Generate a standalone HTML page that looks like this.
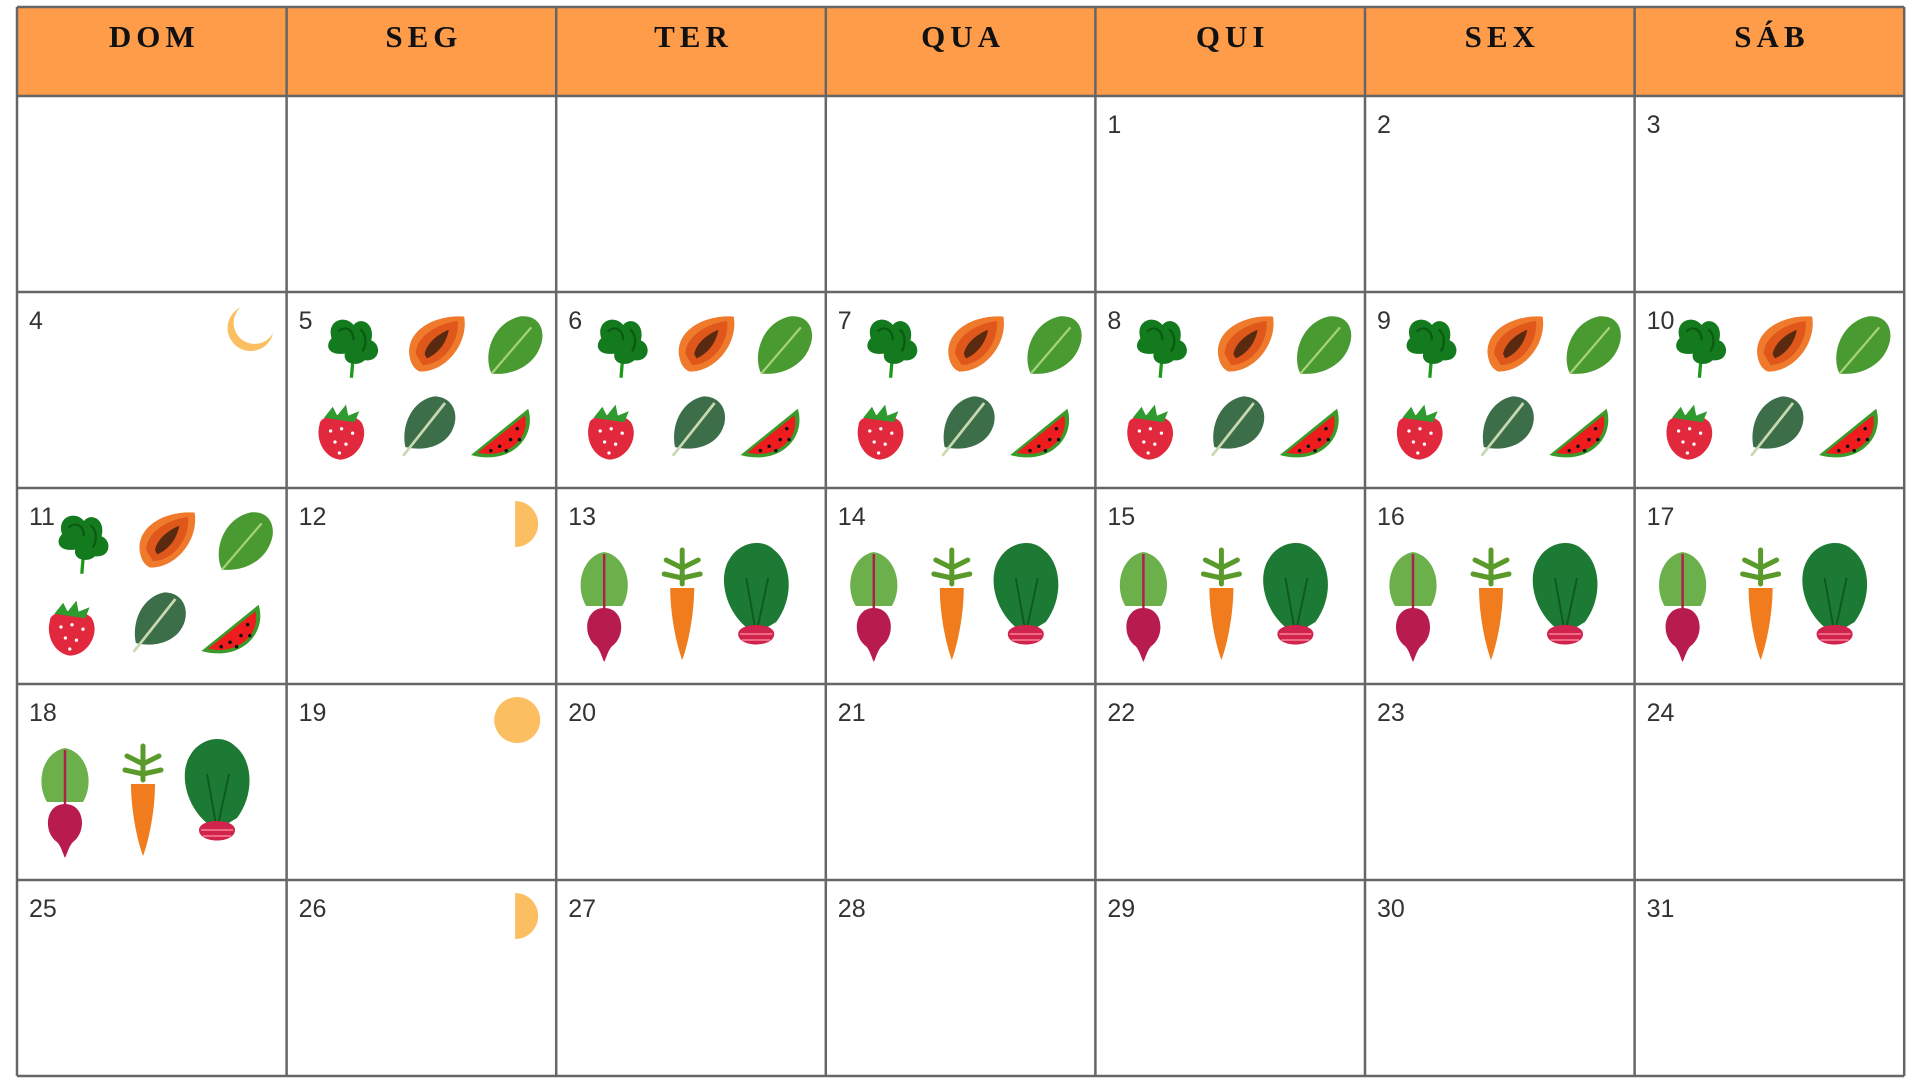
<!DOCTYPE html>
<html><head><meta charset="utf-8">
<style>
html,body{margin:0;padding:0;background:#fff;width:1920px;height:1080px;overflow:hidden}
#cal{position:absolute;left:0;top:0}
.hd{font-family:"Liberation Serif",serif;font-weight:bold;font-size:31px;letter-spacing:5px;fill:#111}
.num{font-family:"Liberation Sans",sans-serif;font-size:25px;fill:#333;font-weight:300}
</style></head>
<body>
<svg id="cal" width="1920" height="1080" viewBox="0 0 1920 1080">
<defs>
<symbol id="spinach" viewBox="0 0 60 60">
<path d="M28 58 L30 34" stroke="#1a9a1a" stroke-width="3"/>
<path d="M10 22 C5 6 22 0 30 10 C36 2 50 8 46 24 C56 28 54 44 40 42 C34 48 20 46 22 36 C6 38 4 28 10 22Z" fill="#137a1d"/>
<path d="M16 16 C22 10 30 14 30 24 M36 14 C42 18 42 28 38 34" stroke="#0b5a12" stroke-width="2" fill="none"/>
</symbol>
<symbol id="papaya" viewBox="0 0 60 60">
<path d="M6 40 C4 18 30 4 56 6 C60 30 40 56 16 56 C10 54 7 48 6 40Z" fill="#f07a2c"/>
<path d="M12 40 C12 24 32 12 50 10 C52 30 36 50 18 50Z" fill="#e0571c"/>
<path d="M20 40 C22 30 32 22 42 18 C40 30 32 40 22 44Z" fill="#5a2a10"/>
</symbol>
<symbol id="kale" viewBox="0 0 60 60">
<path d="M10 56 C2 40 10 10 36 4 C54 2 60 18 54 32 C48 48 30 58 10 56Z" fill="#4a9a32"/>
<path d="M10 56 L46 14" stroke="#a6d27a" stroke-width="2"/>
</symbol>
<symbol id="straw" viewBox="0 0 60 60">
<path d="M10 24 C10 14 40 12 48 22 C56 36 44 56 28 56 C14 54 6 38 10 24Z" fill="#e2283c"/>
<path d="M14 18 L22 8 L26 16 L34 6 L36 16 L46 12 L42 22 Z" fill="#2f9a2f"/>
<g fill="#fff"><circle cx="20" cy="30" r="1.5"/><circle cx="30" cy="28" r="1.5"/><circle cx="40" cy="32" r="1.5"/><circle cx="24" cy="40" r="1.5"/><circle cx="34" cy="42" r="1.5"/><circle cx="28" cy="50" r="1.5"/></g>
</symbol>
<symbol id="kale2" viewBox="0 0 60 60">
<path d="M8 50 C4 30 14 8 34 4 C52 4 58 22 50 36 C42 50 24 54 8 50Z" fill="#3d6e4a"/>
<path d="M6 58 L44 10" stroke="#c8d8b0" stroke-width="2.5"/>
</symbol>
<symbol id="melon" viewBox="0 0 60 60">
<path d="M4 50 L56 8 C64 34 40 60 4 50Z" fill="#3a9a2a"/>
<path d="M10 48 L53 14 C58 34 38 54 10 48Z" fill="#ee1c1c"/>
<g fill="#111"><circle cx="30" cy="42" r="1.6"/><circle cx="40" cy="36" r="1.6"/><circle cx="46" cy="26" r="1.6"/><circle cx="22" cy="46" r="1.6"/><circle cx="36" cy="46" r="1.6"/><circle cx="48" cy="36" r="1.6"/></g>
</symbol>
<symbol id="beet" viewBox="0 0 60 120">
<path d="M12 60 C0 40 8 10 30 6 C52 10 60 40 48 60Z" fill="#6bb04a"/>
<path d="M30 8 L30 70" stroke="#b0204c" stroke-width="2.5"/>
<path d="M30 62 C10 62 8 90 22 100 C26 104 28 112 30 116 C32 112 34 104 38 100 C52 90 50 62 30 62Z" fill="#b81c4e"/>
</symbol>
<symbol id="carrot" viewBox="0 0 60 120">
<path d="M30 40 L30 6 M30 24 L14 16 M30 24 L46 16 M30 34 L12 30 M30 34 L48 30" stroke="#5a9a2a" stroke-width="5" stroke-linecap="round"/>
<path d="M18 44 L42 44 C42 70 36 100 30 116 C24 100 18 70 18 44Z" fill="#f07c1e"/>
</symbol>
<symbol id="radish" viewBox="0 0 80 120">
<path d="M40 96 C10 80 0 40 14 20 C24 4 46 0 58 12 C76 26 78 60 60 84Z" fill="#1d7a34"/>
<path d="M40 96 L30 40 M40 96 L52 40" stroke="#0d5a22" stroke-width="2"/>
<path d="M22 96 C22 84 58 84 58 96 C58 110 22 110 22 96Z" fill="#d0234e"/>
<path d="M24 96 L56 96 M26 102 L54 102" stroke="#f06a84" stroke-width="2"/>
</symbol>
</defs>
<g id="grid"></g>
</svg>
<script>
const dayNames=["DOM","SEG","TER","QUA","QUI","SEX","SÁB"];
const fruitDays=[5,6,7,8,9,10,11];
const vegDays=[13,14,15,16,17,18];
const moonDays=[4,12,19,26];
const moonKinds=["crescent","half-left","full","half-right"];
const startOffset=4;
const daysInMonth=31;
const NS="http://www.w3.org/2000/svg";
const g=document.getElementById('grid');
const x0=17,y0=7,cw=269.6,hh=89,rh=196;
function mk(t,a){const e=document.createElementNS(NS,t);for(const k in a)e.setAttribute(k,a[k]);g.appendChild(e);return e;}
let hb=mk('rect',{x:x0,y:y0,width:cw*7,height:hh,fill:'#fe9c4a'});


dayNames.forEach((n,i)=>{
 const t=mk('text',{x:x0+cw*i+cw/2+2.5,y:y0+40,'text-anchor':'middle',class:'hd'});t.textContent=n;
 
 
});
for(let d=1;d<=daysInMonth;d++){
 const idx=d-1+startOffset,c=idx%7,r=Math.floor(idx/7);
 const cx=x0+c*cw,cy=y0+hh+r*rh;
 const t=mk('text',{x:cx+12,y:cy+37,class:'num'});t.textContent=d;
 
 
 if(fruitDays.includes(d)){
  const ic=[['spinach',34,22],['papaya',116,18],['kale',194,20],['straw',22,106],['kale2',110,100],['melon',180,108]];
  ic.forEach(([s,dx,dy])=>{const u=mk('use',{href:'#'+s,x:cx+dx,y:cy+dy,width:66,height:66});
   
   });
 }
 if(vegDays.includes(d)){
  const ic=[['beet',18,58,60,120],['carrot',96,56,60,120],['radish',160,44,80,132]];
  ic.forEach(([s,dx,dy,w,h])=>{const u=mk('use',{href:'#'+s,x:cx+dx,y:cy+dy,width:w,height:h});
   
   });
 }
 const mi=moonDays.indexOf(d);
 if(mi>=0){
  const k=moonKinds[mi],my=cy+36;let e;
  if(k==='crescent'){
   const mx=cx+cw-36;
   e=mk('circle',{cx:mx,cy:my,r:23,fill:'#fbbf62'});
   const w=mk('circle',{cx:mx+4,cy:my-5,r:21,fill:'#fff'});
   
   
  }
  else if(k==='full')e=mk('circle',{cx:cx+cw-39,cy:my,r:23,fill:'#fbbf62'});
  else e=mk('path',{d:`M${cx+cw-41} ${my-23} A23 23 0 0 1 ${cx+cw-41} ${my+23}Z`,fill:'#fbbf62'});
  
  
 }
}
for(let i=0;i<=7;i++){const l=mk('line',{x1:x0+cw*i,y1:y0,x2:x0+cw*i,y2:y0+hh+rh*5,stroke:'#666','stroke-width':2.5});
 
 }
for(let j=0;j<=6;j++){const y=j===0?y0:y0+hh+rh*(j-1);const l=mk('line',{x1:x0,y1:y,x2:x0+cw*7,y2:y,stroke:'#666','stroke-width':2.5});
 
 }
</script>
</body></html>
